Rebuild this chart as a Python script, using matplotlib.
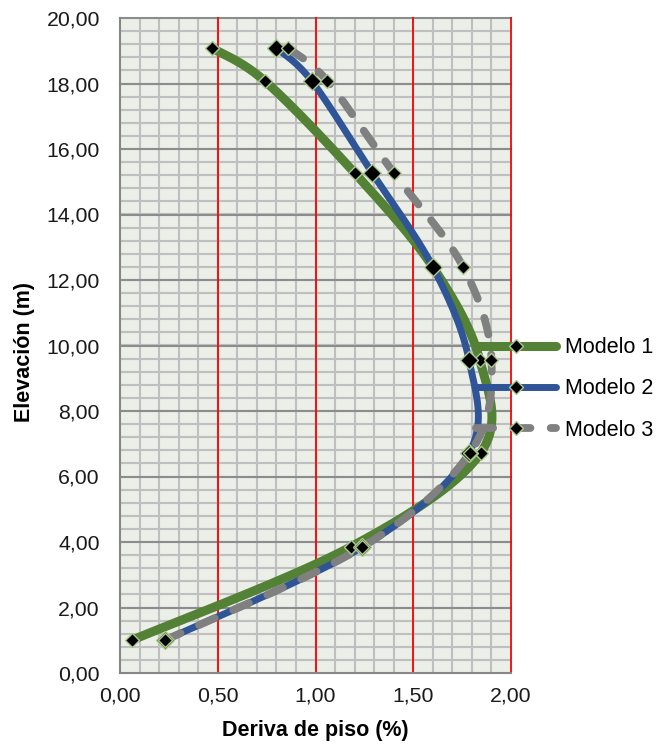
import numpy as np
import matplotlib.pyplot as plt
from matplotlib.ticker import FixedLocator, FuncFormatter

plt.rcParams['font.family'] = ['Liberation Sans', 'DejaVu Sans']

# elevaciones de los pisos (m) y derivas (%) de cada modelo
elevacion = [1.00, 3.85, 6.72, 9.56, 12.40, 15.27, 18.08, 19.08]
deriva_m1 = [0.06, 1.18, 1.845, 1.84, 1.60, 1.20, 0.74, 0.47]
deriva_m2 = [0.23, 1.24, 1.785, 1.785, 1.60, 1.29, 0.98, 0.80]
deriva_m3 = [0.23, 1.24, 1.79, 1.90, 1.755, 1.40, 1.06, 0.86]
modelos = ['Modelo 1', 'Modelo 2', 'Modelo 3']

x_ticks = [0.0, 0.5, 1.0, 1.5, 2.0]
y_ticks = [0, 2, 4, 6, 8, 10, 12, 14, 16, 18, 20]


def suavizar(xs, ys, n=40):
    """Curva suavizada tipo Excel (Bezier con tangentes Catmull-Rom)"""
    p = np.column_stack([xs, ys]).astype(float)
    pts = [p[0]]
    for i in range(len(p) - 1):
        p0 = p[i - 1] if i > 0 else p[i]
        p1, p2 = p[i], p[i + 1]
        p3 = p[i + 2] if i + 2 < len(p) else p[i + 1]
        c1 = p1 + (p2 - p0) / 6
        c2 = p2 - (p3 - p1) / 6
        t = np.linspace(0, 1, n)[1:, None]
        seg = ((1 - t) ** 3 * p1 + 3 * (1 - t) ** 2 * t * c1
               + 3 * (1 - t) * t ** 2 * c2 + t ** 3 * p2)
        pts.extend(seg)
    pts = np.array(pts)
    return pts[:, 0], pts[:, 1]


fig = plt.figure(figsize=(6.7, 7.49), dpi=100)
ax = fig.add_axes([120 / 670, 1 - 673 / 749, 391 / 670, 655 / 749])
ax.set_facecolor('#EBEFE8')
ax.set_xlim(0, 2.0)
ax.set_ylim(0, 20)

# cuadricula: secundaria gris claro, principal gris oscuro / roja
for xv in np.arange(0.1, 2.0, 0.1):
    ax.axvline(xv, color='#BFBFBF', lw=1.5, zorder=0.5)
for yv in np.arange(0.4, 20.0, 0.4):
    ax.axhline(yv, color='#BFBFBF', lw=1.5, zorder=0.5)
for yv in y_ticks[1:]:
    ax.axhline(yv, color='#8C8C8C', lw=1.5, zorder=0.6, clip_on=False)
for xv in x_ticks[1:]:
    ax.axvline(xv, color='#FF0000', lw=1.3, zorder=0.7, clip_on=False)

for s in ['top', 'right']:
    ax.spines[s].set_visible(False)
for s in ['left', 'bottom']:
    ax.spines[s].set_color('#868686')
    ax.spines[s].set_linewidth(1.5)

estilos = [
    dict(color='#538135', lw=6.5, ls='-', ms=7),
    dict(color='#2F5597', lw=5.0, ls='-', ms=9),
    dict(color='#808080', lw=5.6, ls=(0, (2.2, 2.6)), ms=7),
]
series = [deriva_m1, deriva_m2, deriva_m3]

handles = []
for datos, nombre, st in zip(series, modelos, estilos):
    xs, ys = suavizar(datos, elevacion)
    ax.plot(xs, ys, color=st['color'], lw=st['lw'], ls=st['ls'],
            solid_capstyle='round', dash_capstyle='round', zorder=3)
    ax.plot(datos, elevacion, ls='none', marker='D', ms=st['ms'],
            mfc='black', mec='#A9C98A', mew=1.0, zorder=4)
    h, = plt.plot([], [], color=st['color'], lw=st['lw'], ls=st['ls'],
                  solid_capstyle='round', dash_capstyle='round',
                  marker='D', ms=7, mfc='black', mec='#A9C98A', mew=1.0)
    handles.append(h)

ax.xaxis.set_major_locator(FixedLocator(x_ticks))
ax.yaxis.set_major_locator(FixedLocator(y_ticks))
ax.xaxis.set_major_formatter(FuncFormatter(lambda v, p: f'{v:.2f}'.replace('.', ',')))
ax.yaxis.set_major_formatter(FuncFormatter(lambda v, p: f'{v:.2f}'.replace('.', ',')))
ax.tick_params(axis='both', length=0, labelsize=15.3, colors='#1A1A1A')
ax.tick_params(axis='y', pad=14.5)
ax.tick_params(axis='x', pad=10)

ax.set_xlabel('Deriva de piso (%)', fontsize=15.5, fontweight='bold', labelpad=10)
ax.set_ylabel('Elevación (m)', fontsize=15.5, fontweight='bold')
ax.yaxis.set_label_coords(-0.217, 0.49)

fig.legend(handles, modelos, loc='center left',
           bbox_to_anchor=(476 / 670, 1 - 389 / 749), frameon=False,
           fontsize=15.5, handlelength=3.7, handletextpad=0.45,
           labelspacing=0.95, borderaxespad=0, borderpad=0)

fig.savefig('out.png', dpi=100)
